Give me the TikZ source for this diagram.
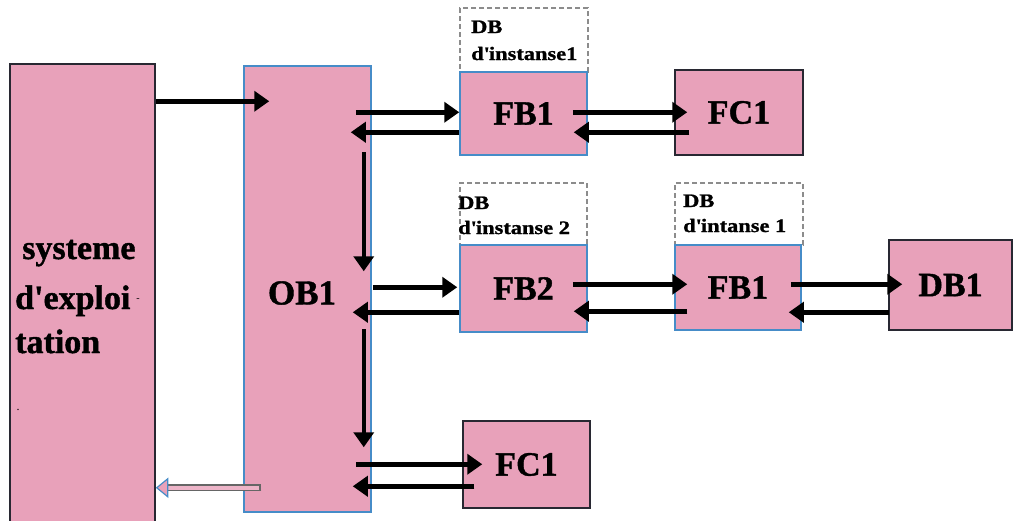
\documentclass[tikz,border=0pt]{standalone}
\usepackage{fontspec}
\setmainfont{Liberation Serif}
\newfontface\heavy{Liberation Serif Bold}[FakeBold=1.2]
\newfontface\heavyw{Liberation Serif Bold}[FakeBold=1.2,FakeStretch=1.18]
\usetikzlibrary{arrows.meta}
\definecolor{boxpink}{RGB}{232,161,186}
\definecolor{edgeblue}{RGB}{70,140,200}
\definecolor{edgedark}{RGB}{40,40,50}
\newcommand{\q}{\textquotesingle}
\begin{document}
\begin{tikzpicture}[x=1pt,y=-1pt,
  blk/.style={draw=edgedark,fill=boxpink,line width=1.5pt,inner sep=0pt,
    font=\heavy\fontsize{34}{34}\selectfont},
  blkb/.style={blk,draw=edgeblue},
  dbox/.style={draw=black!45,line width=1.3pt,dash pattern=on 5pt off 3pt,inner sep=0pt},
  lbl/.style={font=\heavyw\fontsize{19}{19}\selectfont,anchor=base west,inner sep=0pt},
  big/.style={font=\heavy\fontsize{34}{34}\selectfont,anchor=base west,inner sep=0pt},
  arr/.style={line width=4.5pt,-{Triangle[length=15pt,width=20pt]}}]
\useasboundingbox (0,0) rectangle (1014,520);
% boxes
\node[blk,minimum width=145pt,minimum height=458pt] (sys) at (82.5,293) {};
\node[blkb,minimum width=127pt,minimum height=446pt] (ob1) at (307.5,289) {};
\node[dbox,minimum width=128pt,minimum height=64pt] (d1) at (524,40) {};
\node[blkb,minimum width=127pt,minimum height=83pt] (fb1a) at (523.5,113.5) {FB1};
\node[blk,minimum width=128pt,minimum height=85pt] (fc1a) at (739,112.5) {FC1};
\node[dbox,minimum width=127pt,minimum height=62pt] (d2) at (523.5,214) {};
\node[dbox,minimum width=128pt,minimum height=62pt] (d3) at (739,214) {};
\node[blkb,minimum width=127pt,minimum height=87pt] (fb2) at (523.5,288.5) {FB2};
\node[blkb,minimum width=126pt,minimum height=85pt] (fb1b) at (738,287.5) {FB1};
\node[blk,minimum width=123pt,minimum height=90pt] (db1) at (950.5,285) {DB1};
\node[blk,minimum width=127pt,minimum height=87pt] (fc1b) at (526.5,464.5) {FC1};
% texts
\node[big] (t1) at (22,259) {systeme};
\node[big] (t2) at (15,309) {d\q exploi};
\node[font=\fontsize{10}{10}\selectfont,inner sep=0pt] (t2b) at (138,300) {-};
\node[big] (t3) at (15,353) {tation};
\node[font=\fontsize{12}{12}\selectfont,inner sep=0pt] (t4) at (18,410) {.};
\node[font=\heavy\fontsize{35}{35}\selectfont,inner sep=0pt] (tob) at (302,293) {OB1};
\node[lbl] (l1a) at (471,33) {DB};
\node[lbl] (l1b) at (471,60) {d\q instanse1};
\node[lbl] (l2a) at (458,209) {DB};
\node[lbl] (l2b) at (458,234) {d\q instanse 2};
\node[lbl] (l3a) at (683,207) {DB};
\node[lbl] (l3b) at (683,232) {d\q intanse 1};
% connectors
\draw[arr] ([shift={(0,38)}]sys.north east) -- ([shift={(26,36)}]ob1.north west);
\draw[line width=7pt,draw=black!60] ([shift={(18,-25)}]ob1.south west) -- ([shift={(10,-35)}]sys.south east);
\draw[line width=3.5pt,draw=boxpink!80!white] ([shift={(16,-25)}]ob1.south west) -- ([shift={(6,-35)}]sys.south east);
\draw[draw=edgeblue,fill=boxpink,line width=1.2pt] ([shift={(1,-35)}]sys.south east) -- ([shift={(12,-44)}]sys.south east) -- ([shift={(12,-26)}]sys.south east) -- cycle;
\draw[arr] ([shift={(-8,87)}]ob1.north east) -- ([shift={(-8,206)}]ob1.north east);
\draw[arr] ([shift={(-8,264)}]ob1.north east) -- ([shift={(-8,382)}]ob1.north east);
\draw[arr] ([shift={(-16,47)}]ob1.north east) -- ([shift={(0,41)}]fb1a.north west);
\draw[arr] ([shift={(0,61)}]fb1a.north west) -- ([shift={(-21,67)}]ob1.north east);
\draw[arr] ([shift={(-15,41)}]fb1a.north east) -- ([shift={(13,43)}]fc1a.north west);
\draw[arr] ([shift={(15,63)}]fc1a.north west) -- ([shift={(-14,61)}]fb1a.north east);
\draw[arr] ([shift={(1,222)}]ob1.north east) -- ([shift={(-2,43)}]fb2.north west);
\draw[arr] ([shift={(0,68)}]fb2.north west) -- ([shift={(-19,247)}]ob1.north east);
\draw[arr] ([shift={(-15,40)}]fb2.north east) -- ([shift={(13,40)}]fb1b.north west);
\draw[arr] ([shift={(13,67)}]fb1b.north west) -- ([shift={(-14,67)}]fb2.north east);
\draw[arr] ([shift={(-11,40)}]fb1b.north east) -- ([shift={(14,45)}]db1.north west);
\draw[arr] ([shift={(1,73)}]db1.north west) -- ([shift={(-13,68)}]fb1b.north east);
\draw[arr] ([shift={(-16,399)}]ob1.north east) -- ([shift={(20,44)}]fc1b.north west);
\draw[arr] ([shift={(12,66)}]fc1b.north west) -- ([shift={(-19,421)}]ob1.north east);
\end{tikzpicture}
\end{document}
